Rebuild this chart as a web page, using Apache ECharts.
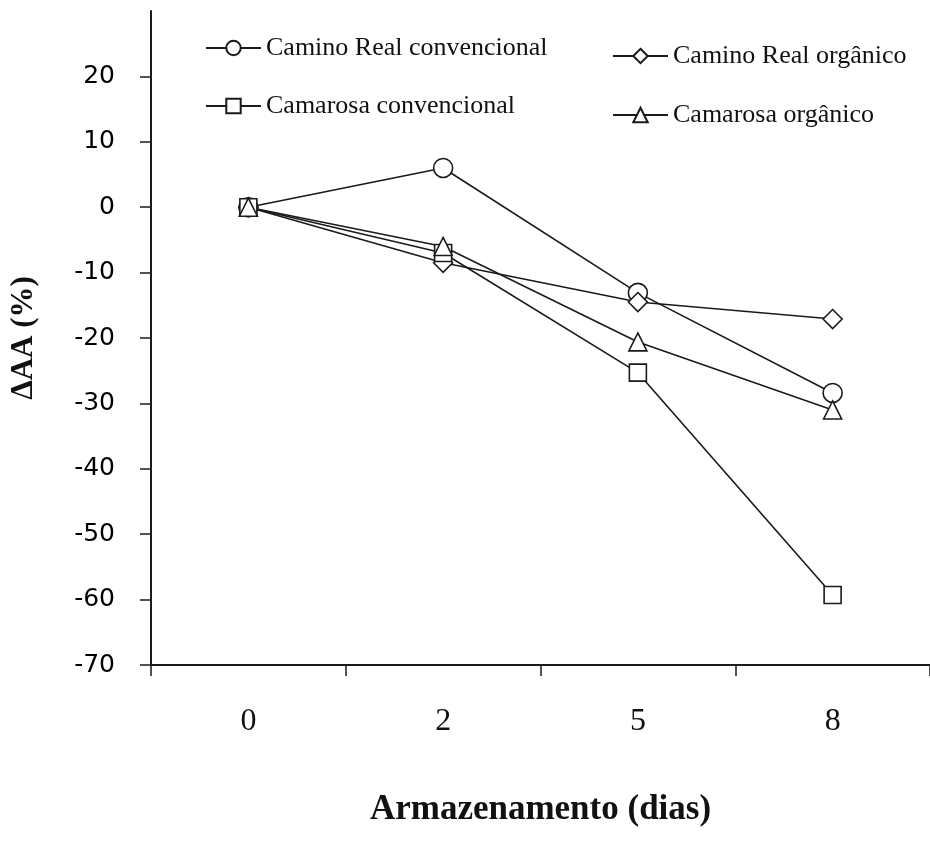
<!DOCTYPE html>
<html>
<head>
<meta charset="utf-8">
<script src="https://cdn.jsdelivr.net/npm/echarts@6/dist/echarts.min.js"></script>
<style>html,body{margin:0;padding:0;background:#fff}#c{width:930px;height:854px}</style>
</head>
<body>
<div id="c"></div>
<script>
const categories = ['0', '2', '5', '8'];
const crConv = [0, 6.0, -13.1, -28.4];
const crOrg = [0, -8.5, -14.5, -17.1];
const caConv = [0, -7.0, -25.3, -59.3];
const caOrg = [0, -6.0, -20.6, -31.0];
const yTicks = [-70, -60, -50, -40, -30, -20, -10, 0, 10, 20];

const names = ['Camino Real convencional', 'Camino Real orgânico', 'Camarosa convencional', 'Camarosa orgânico'];
const INK = '#1a1a1a';
function mkSeries(name, data, symbol, size) {
  return {
    name: name, type: 'line', data: data, symbol: symbol, symbolSize: size,
    showAllSymbol: true,
    lineStyle: { color: INK, width: 1.6 },
    itemStyle: { color: '#fff', borderColor: INK, borderWidth: 1.6 },
    emphasis: { disabled: true }, animation: false
  };
}
const legendBase = {
  itemWidth: 55, itemHeight: 18, itemGap: 4,
  textStyle: { fontFamily: 'Liberation Serif', fontSize: 26, color: '#111' }
};
const chart = echarts.init(document.getElementById('c'), null, { renderer: 'canvas' });
chart.setOption({
  animation: false,
  backgroundColor: '#fff',
  grid: { left: 151, top: 11, width: 779, height: 654, outerBoundsMode: 'none', containLabel: false },
  legend: [
    Object.assign({ data: [names[0]], left: 200, top: 30 }, legendBase),
    Object.assign({ data: [names[1]], left: 607, top: 38 }, legendBase),
    Object.assign({ data: [names[2]], left: 200, top: 88 }, legendBase),
    Object.assign({ data: [names[3]], left: 607, top: 97 }, legendBase)
  ],
  xAxis: {
    type: 'category', data: categories, boundaryGap: true,
    name: 'Armazenamento (dias)', nameLocation: 'middle', nameGap: 127,
    nameTextStyle: { fontFamily: 'Liberation Serif', fontWeight: 'bold', fontSize: 35, color: '#111' },
    axisLine: { onZero: false, lineStyle: { color: INK, width: 2 } },
    axisTick: { show: true, length: 11, lineStyle: { color: INK, width: 1.5 } },
    axisLabel: { margin: 41, fontFamily: 'Liberation Serif', fontSize: 32, color: '#111' },
    splitLine: { show: false }
  },
  yAxis: {
    type: 'value', min: -70, max: 30, interval: 10,
    name: 'ΔAA (%)', nameLocation: 'middle', nameGap: 112, nameRotate: 90,
    nameTextStyle: { fontFamily: 'Liberation Serif', fontWeight: 'bold', fontSize: 31, color: '#111' },
    axisLine: { show: true, onZero: false, lineStyle: { color: INK, width: 2 } },
    axisTick: { show: true, length: 11, customValues: yTicks, lineStyle: { color: INK, width: 1.5 } },
    axisLabel: { margin: 36, customValues: yTicks, fontFamily: 'DejaVu Sans', fontSize: 25, color: '#000' },
    splitLine: { show: false }
  },
  series: [
    mkSeries(names[0], crConv, 'circle', 19),
    mkSeries(names[1], crOrg, 'diamond', 19),
    mkSeries(names[2], caConv, 'rect', 17),
    mkSeries(names[3], caOrg, 'triangle', 18)
  ]
});
</script>
</body>
</html>
